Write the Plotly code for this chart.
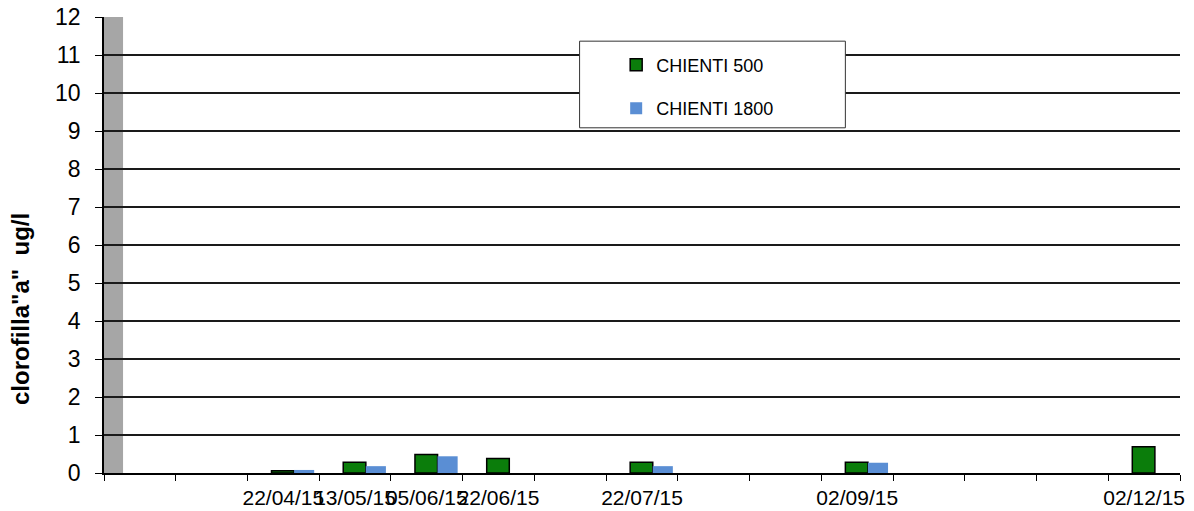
import plotly.graph_objects as go

# ---- data ----
cat_index = list(range(15))
tick_labels = ["", "", "22/04/15", "13/05/15", "05/06/15", "22/06/15", "",
               "22/07/15", "", "", "02/09/15", "", "", "", "02/12/15"]
chienti_500 = [None, None, 0.06, 0.28, 0.49, 0.38, None, 0.28, None, None, 0.28, None, None, None, 0.69]
chienti_1800 = [None, None, 0.08, 0.18, 0.44, 0.0, None, 0.18, None, None, 0.27, None, None, None, None]
series_names = ["CHIENTI 500", "CHIENTI 1800"]
y_title = 'clorofilla"a"  ug/l'

labeled = [i for i, t in enumerate(tick_labels) if t]

fig = go.Figure()
fig.add_trace(go.Bar(
    x=cat_index, y=chienti_500, name=series_names[0],
    offset=-0.165, width=0.315,
    marker=dict(color="#0b7d0b", line=dict(color="black", width=1.5)),
    legendgroup="a",
))
fig.add_trace(go.Bar(
    x=cat_index, y=chienti_1800, name=series_names[1],
    offset=0.15, width=0.28,
    marker=dict(color="#5a8ed4", line=dict(width=0)),
    legendgroup="b",
))

font_family = "Liberation Sans, Arial, sans-serif"

fig.update_layout(
    width=1194, height=511,
    margin=dict(l=104, r=14, t=17, b=38),
    paper_bgcolor="white", plot_bgcolor="white",
    barmode="overlay",
    font=dict(family=font_family, color="black"),
    showlegend=True,
    legend=dict(
        x=0.476, y=0.935, xanchor="left", yanchor="top",
        bgcolor="rgba(0,0,0,0)", borderwidth=0,
        font=dict(size=18, family=font_family),
        tracegroupgap=17, itemwidth=30,
    ),
    xaxis=dict(
        range=[-0.5, 14.5], automargin=False,
        tickmode="array", tickvals=labeled,
        ticktext=[tick_labels[i] for i in labeled],
        tickangle=0,
        ticks="outside", ticklen=0,
        tickfont=dict(size=21, family=font_family),
        showgrid=False, zeroline=False,
        showline=True, linecolor="black", linewidth=2,
        minor=dict(tickmode="array", tickvals=[i - 0.5 for i in range(16)],
                   ticks="outside", ticklen=6, tickcolor="black", tickwidth=1,
                   showgrid=False),
        ticklabelstandoff=5,
    ),
    yaxis=dict(
        range=[0, 12], tickmode="linear", tick0=0, dtick=1, automargin=False,
        ticks="outside", ticklen=7, tickcolor="black",
        tickfont=dict(size=23, family=font_family),
        showgrid=True, gridcolor="#1a1a1a", gridwidth=1.5,
        zeroline=False,
        showline=True, linecolor="black", linewidth=1.5,
        ticklabelstandoff=10,
    ),
    shapes=[
        dict(type="rect", xref="x domain", yref="y domain",
             x0=0, x1=0.0177, y0=0, y1=1,
             fillcolor="#a6a6a6", line=dict(width=0), layer="below"),
        dict(type="rect", xref="x domain", yref="y domain",
             x0=0.442, x1=0.689, y0=0.757, y1=0.947,
             fillcolor="white", line=dict(color="#333", width=1), layer="above"),
    ],
    annotations=[
        dict(text=y_title, xref="paper", yref="paper", x=-0.077, y=0.36,
             xanchor="center", yanchor="middle", textangle=-90, showarrow=False,
             font=dict(size=24, family=font_family, color="black", weight="bold")),
    ],
)

fig.write_html("out.html", config={"displayModeBar": False},
               post_script="document.body.style.margin='0';")
